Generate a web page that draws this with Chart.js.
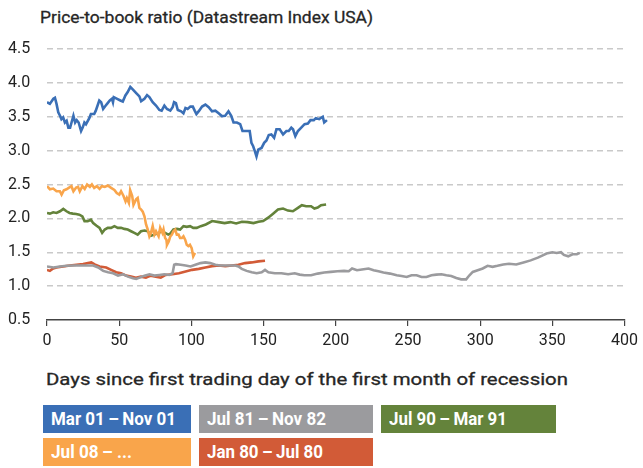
<!DOCTYPE html>
<html>
<head>
<meta charset="utf-8">
<script src="https://cdn.jsdelivr.net/npm/chart.js@4"></script>
<style>
    body { margin: 0; background: #fff; }
    #wrap { position: relative; width: 643px; height: 468px; overflow: hidden; }
    #chartBox { position: absolute; left: 0; top: 0; width: 643px; height: 360px; }
    .title {
        position: absolute; left: 40px; color: #262626; white-space: nowrap;
        font-family: Roboto, "Liberation Sans", sans-serif; font-size: 17px; font-weight: 400;
        line-height: 20px; -webkit-text-stroke: 0.3px #262626;
    }
    .title span, .legendBox span { display: inline-block; transform-origin: 0 50%; }
    .legendBox {
        position: absolute; height: 28px; line-height: 28px; color: #fff; white-space: nowrap;
        font-family: Roboto, "Liberation Sans", sans-serif;
        font-weight: bold; font-size: 18px; padding-left: 8px; box-sizing: border-box;
    }
</style>
</head>
<body>
<div id="wrap">
    <div class="title" id="mainTitle" style="top:7px;"><span>Price-to-book ratio (Datastream Index USA)</span></div>
    <div id="chartBox"><canvas id="myChart" width="643" height="360"></canvas></div>
    <div class="title" id="xTitle" style="top:369px; left:46px;"><span>Days since first trading day of the first month of recession</span></div>
    <div id="legend"></div>
</div>

<script>
// Данные (день от начала рецессии, значение P/B)
const seriesNames = ['Mar 01\u2009–\u2009Nov 01', 'Jul 81\u2009–\u2009Nov 82', 'Jul 90\u2009–\u2009Mar 91', 'Jul 08\u2009– ...', 'Jan 80\u2009–\u2009Jul 80'];
const seriesColors = ['#3a6fb6', '#9b9b9e', '#64833b', '#f9a54b', '#d25b37'];

const yTicks = [0.5, 1.0, 1.5, 2.0, 2.5, 3.0, 3.5, 4.0, 4.5];
const xTicks = [0, 50, 100, 150, 200, 250, 300, 350, 400];

const blueDays = [0, 2, 4.4, 5.5, 6.6, 7.8, 9, 10, 11.2, 12.4, 13.6, 14.8, 16, 17, 18.3, 19.5, 20.6, 21.9, 23.6, 24.7, 25.9, 27, 29.3, 30.4, 32.7, 33.8, 36.2, 37.5, 38.9, 41.2, 43.5, 45, 45.7, 46.3, 48.6, 50.8, 52.5, 54.3, 55.9, 57.7, 58.9, 61.8, 64, 65.2, 67.5, 69.3, 70.9, 73.2, 75.5, 77.8, 79.4, 81.3, 83.1, 85.4, 87, 88, 89.3, 90.6, 92.9, 94.5, 95.9, 97.4, 99.3, 101, 102.3, 103.5, 105.4, 107.4, 109.7, 112, 114.3, 116.6, 118.9, 121.1, 123.4, 125.7, 127.6, 129.2, 131.5, 133.8, 135.4, 137.2, 140.4, 141.6, 142.8, 144, 145.1, 146.3, 148.6, 150.4, 152, 153.6, 155.4, 157.3, 158.9, 161.2, 163.5, 165.8, 167.4, 169.2, 170.4, 172, 173.8, 176.1, 178.4, 180.7, 182.5, 184.8, 186.2, 188.5, 191, 192, 193.9];
const blueValues = [3.715, 3.69, 3.765, 3.78, 3.69, 3.565, 3.515, 3.465, 3.49, 3.415, 3.44, 3.34, 3.34, 3.415, 3.515, 3.415, 3.45, 3.415, 3.29, 3.34, 3.415, 3.39, 3.48, 3.54, 3.54, 3.59, 3.74, 3.715, 3.615, 3.68, 3.74, 3.765, 3.715, 3.79, 3.765, 3.74, 3.725, 3.815, 3.865, 3.94, 3.915, 3.85, 3.8, 3.73, 3.765, 3.82, 3.79, 3.715, 3.665, 3.6, 3.59, 3.665, 3.615, 3.59, 3.64, 3.715, 3.7, 3.6, 3.58, 3.55, 3.63, 3.615, 3.65, 3.65, 3.59, 3.54, 3.59, 3.65, 3.68, 3.64, 3.58, 3.59, 3.55, 3.51, 3.515, 3.58, 3.515, 3.415, 3.415, 3.39, 3.29, 3.29, 3.29, 3.115, 3.065, 2.99, 2.915, 3.015, 3.04, 3.115, 3.15, 3.23, 3.24, 3.19, 3.315, 3.315, 3.24, 3.29, 3.29, 3.34, 3.315, 3.215, 3.29, 3.34, 3.39, 3.4, 3.45, 3.45, 3.48, 3.465, 3.5, 3.415, 3.45];

const grayDays = [0, 4.5, 9, 13.5, 18.3, 22.9, 27.5, 32, 35.5, 38.9, 42.3, 45.8, 49.2, 52.7, 56.1, 59.5, 61.8, 64.1, 67.5, 71, 74.4, 77.8, 81.3, 84.7, 87, 88.1, 89.3, 92.6, 96, 99.4, 102.8, 106.3, 109.7, 113.1, 116.6, 120, 123.5, 126.9, 130.4, 132.6, 134.9, 138.3, 141.8, 145.2, 148.7, 151, 153.3, 157.8, 162.4, 167, 171.6, 175, 178.3, 182.9, 187.5, 192, 196.6, 201.2, 205.8, 209, 211.3, 214.7, 219.3, 222.7, 226.2, 229.6, 233, 237.6, 242.2, 245.6, 249.1, 252.5, 256, 259.4, 262.8, 266.3, 269.7, 273.2, 276.6, 280, 283.5, 286.9, 290.3, 292.6, 294.9, 298.3, 301.8, 305.2, 308.6, 312, 316, 320, 325, 330, 335, 340, 343, 346, 350, 353, 356, 358, 361, 364, 367, 369];
const grayValues = [1.29, 1.275, 1.29, 1.3, 1.305, 1.305, 1.305, 1.305, 1.275, 1.225, 1.205, 1.19, 1.155, 1.175, 1.14, 1.115, 1.105, 1.125, 1.155, 1.175, 1.155, 1.165, 1.175, 1.165, 1.19, 1.315, 1.325, 1.315, 1.305, 1.29, 1.315, 1.34, 1.35, 1.34, 1.315, 1.305, 1.305, 1.305, 1.305, 1.29, 1.255, 1.225, 1.205, 1.19, 1.205, 1.24, 1.205, 1.19, 1.19, 1.175, 1.19, 1.17, 1.16, 1.16, 1.185, 1.2, 1.21, 1.22, 1.225, 1.22, 1.26, 1.235, 1.25, 1.26, 1.235, 1.22, 1.2, 1.185, 1.16, 1.15, 1.135, 1.16, 1.16, 1.135, 1.135, 1.16, 1.17, 1.175, 1.16, 1.15, 1.12, 1.1, 1.1, 1.16, 1.21, 1.235, 1.26, 1.3, 1.285, 1.3, 1.32, 1.33, 1.32, 1.35, 1.38, 1.42, 1.45, 1.48, 1.5, 1.49, 1.5, 1.46, 1.44, 1.47, 1.47, 1.49];

const greenDays = [0, 2, 4.3, 6.6, 9, 11.3, 13.5, 15.6, 17.9, 20.2, 22.4, 24.5, 26, 28.2, 30.4, 32, 34.1, 36.4, 38.2, 40, 42.1, 44.4, 46.7, 49, 51.3, 53.6, 55.9, 58.2, 60.5, 62.8, 65.1, 67.5, 69.8, 72, 74.4, 77.3, 79.5, 81.8, 84, 85.4, 87.6, 90, 92.2, 94.5, 96.8, 99.1, 101.3, 103.7, 106.5, 110, 114.4, 119, 123, 127, 131, 135, 139, 143, 146.5, 149.7, 153.2, 156.6, 160, 163.5, 166.9, 170.3, 173.8, 176.5, 179.5, 182.9, 185.2, 187.5, 189.8, 193.3];
const greenValues = [2.08, 2.07, 2.09, 2.08, 2.105, 2.14, 2.105, 2.08, 2.07, 2.065, 2.055, 2.03, 1.96, 1.96, 1.98, 1.93, 1.895, 1.86, 1.785, 1.835, 1.86, 1.86, 1.885, 1.86, 1.86, 1.845, 1.835, 1.81, 1.785, 1.76, 1.81, 1.82, 1.81, 1.745, 1.76, 1.785, 1.81, 1.785, 1.76, 1.775, 1.835, 1.845, 1.835, 1.885, 1.875, 1.885, 1.86, 1.86, 1.885, 1.91, 1.96, 1.945, 1.93, 1.945, 1.925, 1.95, 1.945, 1.93, 1.95, 1.96, 2.01, 2.07, 2.13, 2.145, 2.115, 2.105, 2.155, 2.195, 2.18, 2.18, 2.145, 2.16, 2.195, 2.205];

const orangeDays = [0, 2, 4.3, 6.6, 8.9, 10.1, 11.7, 13.5, 15.3, 16.9, 18.3, 20.2, 21.5, 22.7, 24.5, 26.1, 27.8, 29.7, 31.1, 32.7, 34.5, 36.4, 38, 40, 42.1, 44.4, 46.7, 48.3, 50.1, 51.3, 53, 54.4, 55.3, 56.7, 57.6, 59, 59.9, 61.7, 62.8, 64, 65.2, 66.3, 67.5, 68.6, 69.8, 70.9, 72, 73.2, 74.4, 75.5, 77.3, 78.4, 80, 80.7, 81.8, 82.7, 83.1, 84.3, 85.4, 86.5, 87.6, 88.8, 89.9, 91.1, 92.2, 93.4, 94.5, 95.7, 96.8, 97.9, 99, 100.2, 101.3, 102.5];
const orangeValues = [2.475, 2.43, 2.44, 2.4, 2.4, 2.35, 2.415, 2.43, 2.455, 2.475, 2.4, 2.455, 2.465, 2.4, 2.475, 2.435, 2.5, 2.465, 2.5, 2.45, 2.475, 2.435, 2.475, 2.465, 2.485, 2.45, 2.42, 2.375, 2.35, 2.4, 2.33, 2.25, 2.3, 2.23, 2.415, 2.33, 2.2, 2.28, 2.3, 2.155, 2.13, 2.1, 2.03, 1.91, 1.835, 1.735, 1.785, 1.885, 1.76, 1.81, 1.735, 1.86, 1.785, 1.835, 1.71, 1.685, 1.61, 1.66, 1.735, 1.76, 1.81, 1.835, 1.76, 1.76, 1.71, 1.71, 1.735, 1.685, 1.61, 1.59, 1.61, 1.56, 1.44, 1.49];

const redDays = [0, 2, 4.3, 6.6, 11.2, 15.8, 20.4, 25, 28.4, 30.7, 33, 36.4, 41, 44.4, 47.9, 51.3, 54.8, 58.2, 61.6, 65.1, 68.5, 71.9, 75.4, 78.8, 82.2, 86.8, 91.4, 96, 100.5, 105.1, 109.7, 114.3, 118.9, 123.5, 128, 132.6, 137.2, 141.8, 146.4, 151];
const redValues = [1.24, 1.225, 1.26, 1.275, 1.29, 1.305, 1.315, 1.325, 1.34, 1.35, 1.32, 1.29, 1.275, 1.24, 1.205, 1.19, 1.155, 1.14, 1.125, 1.14, 1.125, 1.155, 1.14, 1.125, 1.165, 1.175, 1.19, 1.215, 1.24, 1.255, 1.275, 1.295, 1.305, 1.295, 1.305, 1.315, 1.34, 1.35, 1.365, 1.375];

function toPoints(days, values) {
    let points = [];
    for (let i = 0; i < days.length; i++) {
        points.push({ x: days[i], y: values[i] });
    }
    return points;
}

function makeDataset(index, days, values, order) {
    return {
        label: seriesNames[index],
        data: toPoints(days, values),
        borderColor: seriesColors[index],
        borderWidth: 2.6,
        pointRadius: 0,
        tension: 0,
        fill: false,
        order: order
    };
}

// Подогнать текст по ширине (в оригинале другой шрифт)
function fitWidth(span, target) {
    let w = span.getBoundingClientRect().width;
    if (w > 0) {
        span.style.transform = 'scaleX(' + (target / w) + ')';
    }
}

// Легенда в виде цветных плашек под графиком
function buildLegend() {
    let boxes = [
        { i: 0, left: 43, top: 405, width: 148, text: 125 },
        { i: 1, left: 199, top: 405, width: 174, text: 119 },
        { i: 2, left: 381, top: 405, width: 175, text: 118 },
        { i: 3, left: 43, top: 438, width: 148, text: 81 },
        { i: 4, left: 199, top: 438, width: 174, text: 116 }
    ];
    let legend = document.getElementById('legend');
    boxes.forEach(function(b) {
        let div = document.createElement('div');
        div.className = 'legendBox';
        div.style.left = b.left + 'px';
        div.style.top = b.top + 'px';
        div.style.width = b.width + 'px';
        div.style.background = seriesColors[b.i];
        let span = document.createElement('span');
        span.textContent = seriesNames[b.i];
        div.appendChild(span);
        legend.appendChild(div);
        fitWidth(span, b.text);
    });
}

const tickFont = { family: 'Roboto, "Liberation Sans", sans-serif', size: 16 };

let ctx = document.getElementById('myChart').getContext('2d');
new Chart(ctx, {
    type: 'line',
    data: {
        datasets: [
            makeDataset(0, blueDays, blueValues, 1),
            makeDataset(3, orangeDays, orangeValues, 2),
            makeDataset(2, greenDays, greenValues, 3),
            makeDataset(1, grayDays, grayValues, 4),
            makeDataset(4, redDays, redValues, 5)
        ]
    },
    options: {
        responsive: false,
        animation: false,
        layout: { padding: { left: 8, right: 15, top: 49, bottom: 4 } },
        plugins: {
            legend: { display: false },
            tooltip: { enabled: false }
        },
        scales: {
            x: {
                type: 'linear',
                min: 0,
                max: 400,
                afterBuildTicks: function(scale) {
                    scale.ticks = xTicks.map(function(v) { return { value: v }; });
                },
                ticks: { color: '#222', font: tickFont, padding: 5, maxRotation: 0 },
                grid: { drawOnChartArea: false, drawTicks: true, tickLength: 6, color: '#444', lineWidth: 1.2 },
                border: { display: true, color: '#444', width: 1.5 },
                afterFit: function(scale) { scale.height = 36; }
            },
            y: {
                min: 0.5,
                max: 4.5,
                afterBuildTicks: function(scale) {
                    scale.ticks = yTicks.map(function(v) { return { value: v }; });
                },
                ticks: {
                    color: '#222',
                    font: tickFont,
                    crossAlign: 'far',
                    padding: 0,
                    callback: function(v) { return v.toFixed(1); }
                },
                grid: {
                    drawTicks: false,
                    color: function(c) { return c.tick && c.tick.value === 0.5 ? 'rgba(0,0,0,0)' : '#c9c9c9'; },
                    lineWidth: 1.5
                },
                border: { display: false, dash: [6, 4] },
                afterFit: function(scale) { scale.width = 39; }
            }
        }
    }
});

buildLegend();
fitWidth(document.querySelector('#mainTitle span'), 333);
fitWidth(document.querySelector('#xTitle span'), 522);
</script>
</body>
</html>
